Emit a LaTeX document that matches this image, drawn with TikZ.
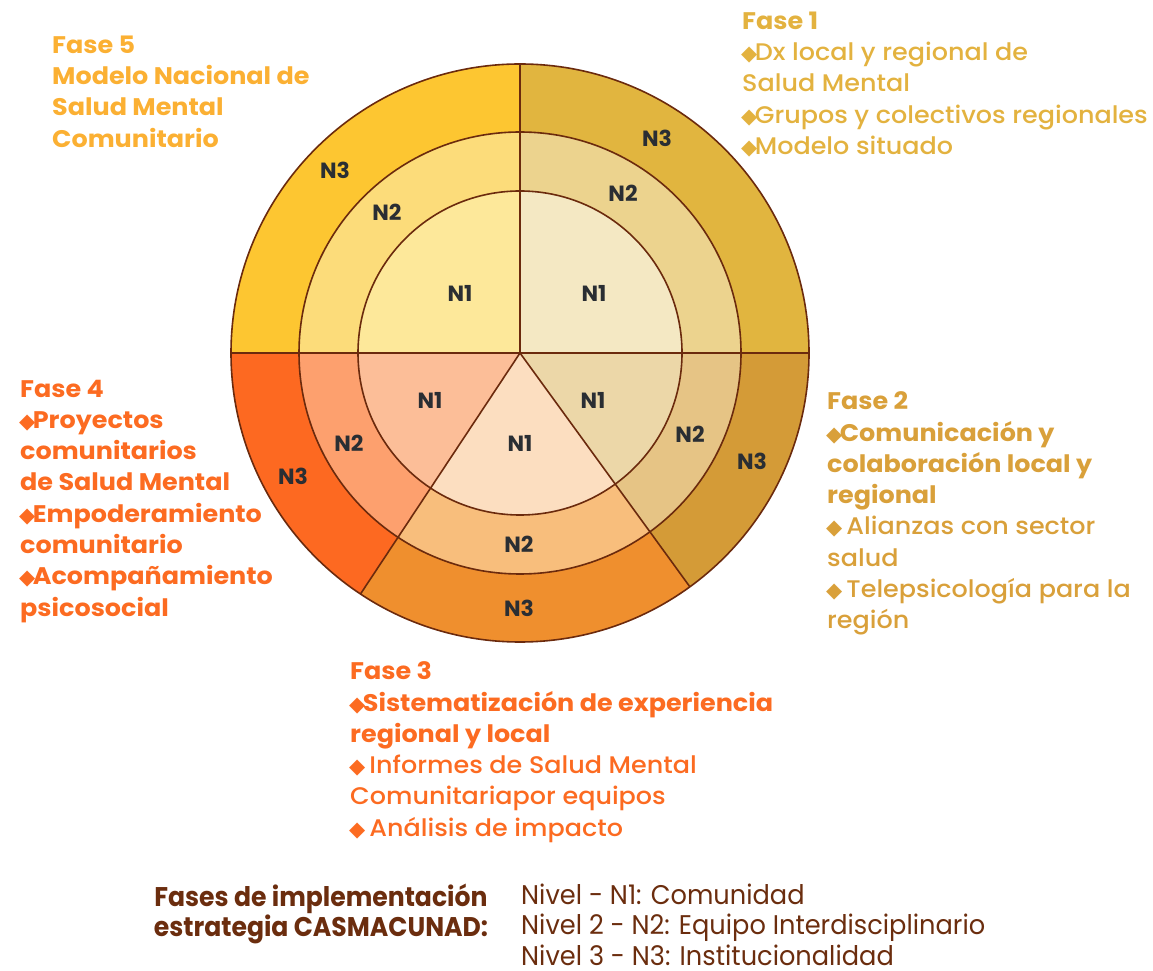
\documentclass[tikz,border=0pt]{standalone}
\usepackage{fontspec}
\setmainfont{Poppins}
\newfontfamily\popmed{Poppins Medium}[FakeStretch=1.06]
\newfontfamily\popbold{Poppins Bold}[FakeStretch=1.06]
\newfontfamily\lvlfont{Poppins Bold}
\newfontfamily\legbold{Poppins Bold}[FakeStretch=0.93]
\newfontfamily\legreg{Poppins}[FakeStretch=0.95]
\newfontfamily\symfont{DejaVu Sans}
\usepackage{tikz}
\usetikzlibrary{positioning}
\definecolor{EdgeBrown}{HTML}{6B2A0D}
\definecolor{LabelGrey}{HTML}{2A2E33}
\definecolor{LegendBrown}{HTML}{6B2D0E}
\definecolor{TxtUno}{HTML}{E3B23F}
\definecolor{TxtDos}{HTML}{D9A03A}
\definecolor{TxtTres}{HTML}{FC6B21}
\definecolor{TxtCinco}{HTML}{FBB033}
\definecolor{UnoA}{HTML}{F4E8C3}
\definecolor{UnoB}{HTML}{ECD38E}
\definecolor{UnoC}{HTML}{E1B53F}
\definecolor{DosA}{HTML}{ECD7A8}
\definecolor{DosB}{HTML}{E6C485}
\definecolor{DosC}{HTML}{D49B37}
\definecolor{TresA}{HTML}{FCDEC0}
\definecolor{TresB}{HTML}{F8BE7C}
\definecolor{TresC}{HTML}{EF8F2E}
\definecolor{CuatroA}{HTML}{FCBE98}
\definecolor{CuatroB}{HTML}{FDA06E}
\definecolor{CuatroC}{HTML}{FD6921}
\definecolor{CincoA}{HTML}{FDE89A}
\definecolor{CincoB}{HTML}{FCDC7A}
\definecolor{CincoC}{HTML}{FDC631}
\newcommand{\dia}{{\symfont\fontsize{21}{21}\selectfont\kern-1pt◆\kern-2.5pt}}

\begin{document}
\begin{tikzpicture}[
    x=1pt, y=1pt,
    edge/.style={draw=EdgeBrown, line width=1.6pt},
    lvl/.style={inner sep=0pt, text=LabelGrey, font=\lvlfont\fontsize{22}{22}\selectfont},
    fasetxt/.style={inner sep=0pt, anchor=north west, align=left, font=\fontsize{24}{31.3}\selectfont},
    legtxt/.style={inner sep=0pt, anchor=north, text=LegendBrown, font=\fontsize{27}{30.6}\selectfont}
  ]
  \useasboundingbox (0,0) rectangle (1153,970);
  \coordinate (c) at (520,617);
  \begin{scope}[shift={(c)}]
    \fill[UnoA] (0,0) -- (0:162) arc[start angle=0, end angle=90, radius=162] -- cycle;
    \fill[UnoB] (0:162) arc[start angle=0, end angle=90, radius=162] -- (90:221) arc[start angle=90, end angle=0, radius=221] -- cycle;
    \fill[UnoC] (0:221) arc[start angle=0, end angle=90, radius=221] -- (90:289) arc[start angle=90, end angle=0, radius=289] -- cycle;
    \fill[CincoA] (0,0) -- (90:162) arc[start angle=90, end angle=180, radius=162] -- cycle;
    \fill[CincoB] (90:162) arc[start angle=90, end angle=180, radius=162] -- (180:221) arc[start angle=180, end angle=90, radius=221] -- cycle;
    \fill[CincoC] (90:221) arc[start angle=90, end angle=180, radius=221] -- (180:289) arc[start angle=180, end angle=90, radius=289] -- cycle;
    \fill[CuatroA] (0,0) -- (180:162) arc[start angle=180, end angle=236.5, radius=162] -- cycle;
    \fill[CuatroB] (180:162) arc[start angle=180, end angle=236.5, radius=162] -- (236.5:221) arc[start angle=236.5, end angle=180, radius=221] -- cycle;
    \fill[CuatroC] (180:221) arc[start angle=180, end angle=236.5, radius=221] -- (236.5:289) arc[start angle=236.5, end angle=180, radius=289] -- cycle;
    \fill[TresA] (0,0) -- (236.5:162) arc[start angle=236.5, end angle=306, radius=162] -- cycle;
    \fill[TresB] (236.5:162) arc[start angle=236.5, end angle=306, radius=162] -- (306:221) arc[start angle=306, end angle=236.5, radius=221] -- cycle;
    \fill[TresC] (236.5:221) arc[start angle=236.5, end angle=306, radius=221] -- (306:289) arc[start angle=306, end angle=236.5, radius=289] -- cycle;
    \fill[DosA] (0,0) -- (306:162) arc[start angle=306, end angle=360, radius=162] -- cycle;
    \fill[DosB] (306:162) arc[start angle=306, end angle=360, radius=162] -- (0:221) arc[start angle=360, end angle=306, radius=221] -- cycle;
    \fill[DosC] (306:221) arc[start angle=306, end angle=360, radius=221] -- (0:289) arc[start angle=360, end angle=306, radius=289] -- cycle;
  \end{scope}
  \draw[edge] (c) circle[radius=162];
  \draw[edge] (c) circle[radius=221];
  \draw[edge] (c) circle[radius=289];
  \draw[edge] (c) -- ++(0:289);
  \draw[edge] (c) -- ++(90:289);
  \draw[edge] (c) -- ++(180:289);
  \draw[edge] (c) -- ++(236.5:289);
  \draw[edge] (c) -- ++(306:289);

  \node[lvl] (c5n1) at (460,677) {N1};
  \node[lvl] (c5n2) at (387,758) {N2};
  \node[lvl] (c5n3) at (335,800) {N3};
  \node[lvl] (c1n1) at (594,677) {N1};
  \node[lvl] (c1n2) at (623,777) {N2};
  \node[lvl] (c1n3) at (657,832) {N3};
  \node[lvl] (c2n1) at (593,570) {N1};
  \node[lvl] (c2n2) at (690,536) {N2};
  \node[lvl] (c2n3) at (752,509) {N3};
  \node[lvl] (c3n1) at (520,527) {N1};
  \node[lvl] (c3n2) at (519,426) {N2};
  \node[lvl] (c3n3) at (519,362) {N3};
  \node[lvl] (c4n1) at (430,570) {N1};
  \node[lvl] (c4n2) at (349,527) {N2};
  \node[lvl] (c4n3) at (293,494) {N3};

  \node[fasetxt, text=TxtCinco] (fase5) at (52,934.4)
    {\popbold Fase 5\\\popbold Modelo Nacional de\\\popbold Salud Mental\\\popbold Comunitario};
  \node[fasetxt, text=TxtUno] (fase1) at (742,958.4)
    {\popbold Fase 1\\\popmed\dia Dx local y regional de\\\popmed Salud Mental\\\popmed\dia Grupos y colectivos regionales\\\popmed\dia Modelo situado};
  \node[fasetxt, text=TxtDos] (fase2) at (827,578.4)
    {\popbold Fase 2\\\popbold\dia Comunicación y\\\popbold colaboración local y\\\popbold regional\\\popmed\dia{} Alianzas con sector\\\popmed salud\\\popmed\dia{} Telepsicología para la\\\popmed región};
  \node[fasetxt, text=TxtTres] (fase3) at (350,308.4)
    {\popbold Fase 3\\\popbold\dia Sistematización de experiencia\\\popbold regional y local\\\popmed\dia{} Informes de Salud Mental\\\popmed Comunitariapor equipos\\\popmed\dia{} Análisis de impacto};
  \node[fasetxt, text=TxtTres] (fase4) at (20,590.4)
    {\popbold Fase 4\\\popbold\dia Proyectos\\\popbold comunitarios\\\popbold de Salud Mental\\\popbold\dia Empoderamiento\\\popbold comunitario\\\popbold\dia Acompañamiento\\\popbold psicosocial};

  \node[legtxt, align=center] (legfases) at (321,86.5)
    {\legbold Fases de implementación\\\legbold estrategia CASMACUNAD:};
  \node[legtxt, anchor=north west, align=left] (legnivel) at (521,86.5)
    {\legreg Nivel - N1: Comunidad\\\legreg Nivel 2 - N2: Equipo Interdisciplinario\\\legreg Nivel 3 - N3: Institucionalidad};
\end{tikzpicture}
\end{document}
